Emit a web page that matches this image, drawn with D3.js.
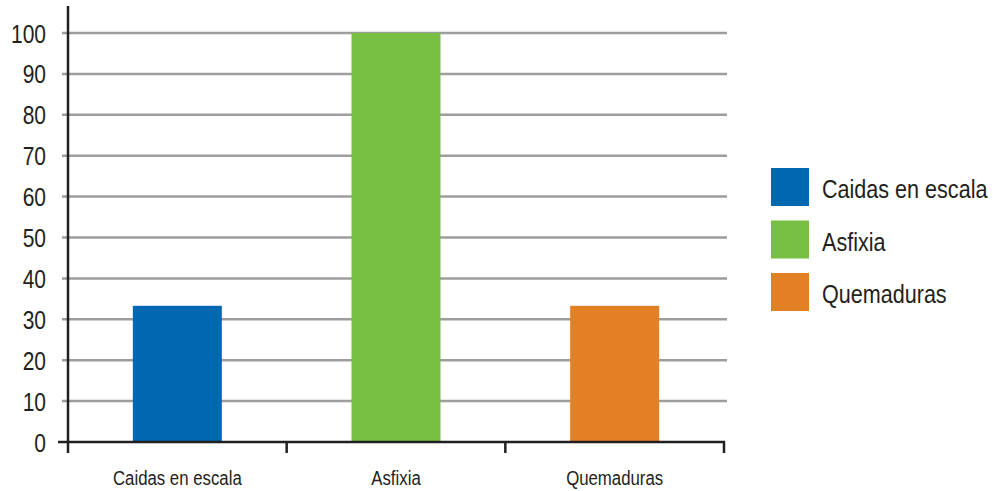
<!DOCTYPE html>
<html>
<head>
<meta charset="utf-8">
<script src="https://cdn.jsdelivr.net/npm/d3@7"></script>
<style>
  body { margin: 0; background: #fff; }
  text { font-family: "Liberation Sans", Arial, sans-serif; fill: #231f20; }
</style>
</head>
<body>
<div id="chart"></div>
<script>
var categories = ["Caidas en escala", "Asfixia", "Quemaduras"];
var values = [33.3, 100, 33.3];
var colors = ["#0068b0", "#76bf43", "#e38024"];
var yTicks = [0, 10, 20, 30, 40, 50, 60, 70, 80, 90, 100];

var width = 993, height = 491;

// the reference uses a condensed face, squeeze glyphs around their anchor x
function condense(sel, k) {
  sel.each(function() {
    var ax = +d3.select(this).attr("x") || 0;
    d3.select(this)
      .attr("transform", "translate(" + ax * (1 - k) + ",0) scale(" + k + ",1)");
  });
}

var svg = d3.select("#chart")
  .append("svg")
  .attr("width", width)
  .attr("height", height);

var x = d3.scaleBand()
  .domain(categories)
  .range([68, 724])
  .padding(0);

var y = d3.scaleLinear()
  .domain([0, 100])
  .range([442, 33]);

// grid lines
svg.append("g")
  .attr("class", "grid")
  .selectAll("line")
  .data(yTicks.filter(d => d > 0))
  .enter().append("line")
  .attr("x1", 62)
  .attr("x2", 727)
  .attr("y1", d => y(d))
  .attr("y2", d => y(d))
  .style("stroke", "#9d9d9d")
  .style("stroke-width", 2.5);

// bars
var barW = x.bandwidth() * 0.407;
svg.append("g")
  .selectAll("rect")
  .data(values)
  .enter().append("rect")
  .attr("x", (d, i) => x(categories[i]) + x.bandwidth() / 2 - barW / 2)
  .attr("y", d => y(d))
  .attr("width", barW)
  .attr("height", d => y(0) - y(d))
  .style("fill", (d, i) => colors[i]);

// y labels
var yAxis = svg.append("g")
  .attr("transform", "translate(68,0)")
  .call(d3.axisLeft(y).tickValues(yTicks).tickSize(0).tickPadding(22));
yAxis.select(".domain").remove();
yAxis.selectAll("text")
  .style("font-size", "25px")
  .attr("dy", "0.36em")
  .call(condense, 0.84);

// y axis line
svg.append("line")
  .attr("x1", 68).attr("x2", 68)
  .attr("y1", 6).attr("y2", 453)
  .style("stroke", "#231f20")
  .style("stroke-width", 2.5);

// x axis line
svg.append("line")
  .attr("x1", 58).attr("x2", 725)
  .attr("y1", y(0)).attr("y2", y(0))
  .style("stroke", "#231f20")
  .style("stroke-width", 2.5);

// x ticks at band boundaries
var bounds = categories.map(c => x(c)).concat([x.range()[1]]).slice(1);
svg.append("g")
  .selectAll("line")
  .data(bounds)
  .enter().append("line")
  .attr("x1", d => d).attr("x2", d => d)
  .attr("y1", y(0)).attr("y2", 453)
  .style("stroke", "#231f20")
  .style("stroke-width", 2.5);

// x labels
var xAxis = svg.append("g")
  .attr("transform", "translate(0," + y(0) + ")")
  .call(d3.axisBottom(x).tickSize(0).tickPadding(28));
xAxis.select(".domain").remove();
xAxis.selectAll("text")
  .style("font-size", "21px")
  .call(condense, 0.8);

// legend
var legend = svg.append("g")
  .selectAll("g")
  .data(categories)
  .enter().append("g")
  .attr("transform", (d, i) => "translate(771," + (168 + i * 52.5) + ")");

legend.append("rect")
  .attr("width", 38)
  .attr("height", 38)
  .style("fill", (d, i) => colors[i]);

legend.append("text")
  .attr("x", 51)
  .attr("y", 21)
  .attr("dy", "0.36em")
  .style("font-size", "26px")
  .text(d => d)
  .call(condense, 0.83);
</script>
</body>
</html>
